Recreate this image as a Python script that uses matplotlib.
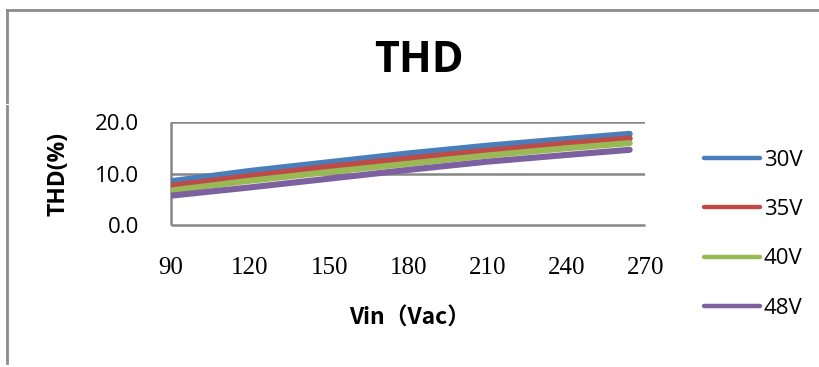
import matplotlib
matplotlib.use("Agg")
import matplotlib.pyplot as plt
from matplotlib.lines import Line2D

vin = [90, 120, 150, 180, 210, 240, 264]
thd_30v = [8.5, 10.5, 12.2, 13.9, 15.4, 16.7, 17.7]
thd_35v = [7.6, 9.5, 11.3, 12.9, 14.4, 15.8, 16.8]
thd_40v = [6.7, 8.6, 10.3, 11.9, 13.5, 14.9, 15.9]
thd_48v = [5.7, 7.3, 9.0, 10.7, 12.3, 13.6, 14.6]
series_labels = ["30V", "35V", "40V", "48V"]
colors = ["#4A7EBB", "#BE4B48", "#98B954", "#7D60A0"]
x_ticks = [90, 120, 150, 180, 210, 240, 270]
y_ticks = [0.0, 10.0, 20.0]

W, H = 820, 367
fig = plt.figure(figsize=(W / 100, H / 100), dpi=100)
ax = fig.add_axes([171 / W, 1 - 225 / H, (645.5 - 171) / W, (225 - 122) / H])

for ys, c, lab in zip([thd_30v, thd_35v, thd_40v, thd_48v], colors, series_labels):
    ax.plot(vin, ys, color=c, lw=4.4, label=lab, solid_capstyle="round", zorder=3)

ax.set_xlim(90, 270)
ax.set_ylim(0, 20)
ax.set_xticks(x_ticks)
ax.set_xticklabels([str(v) for v in x_ticks], fontfamily="Liberation Serif", fontsize=18)
ax.set_yticks(y_ticks)
ax.set_yticklabels([f"{v:.1f}" for v in y_ticks], fontfamily="Open Sans", fontsize=16)
ax.tick_params(axis="both", length=0)
ax.tick_params(axis="x", pad=23)
ax.tick_params(axis="y", pad=23)

grid_c = "#868686"
for y in [10, 20]:
    ax.axhline(y, color=grid_c, lw=1.8, zorder=1)
for s in ["top", "right"]:
    ax.spines[s].set_visible(False)
for s in ["left", "bottom"]:
    ax.spines[s].set_color(grid_c)
    ax.spines[s].set_linewidth(1.8)
    ax.spines[s].set_capstyle("butt")

ax.set_ylabel("THD(%)", fontfamily="Open Sans", fontweight="bold", fontsize=16.5)
ax.yaxis.set_label_coords(-(171 - 71) / (645.5 - 171), 0.5)
ax.set_xlabel("Vin（Vac）", fontfamily=["Noto Sans CJK SC", "DejaVu Sans"], fontweight="bold", fontsize=16.5)
ax.xaxis.set_label_coords((410 - 171) / (645.5 - 171), -(318 - 225) / (225 - 122))
ax.xaxis.label.set_va("center")

fig.text(418.5 / W, 1 - 61 / H, "THD", ha="center", va="center",
         fontfamily="Open Sans", fontweight="bold", fontsize=31)

leg = fig.legend(loc="upper left", bbox_to_anchor=(704 / W, 1 - 150 / H),
                 frameon=False, prop={"family": "Open Sans", "size": 16},
                 handlelength=2.5, handletextpad=0.2, labelspacing=1.27,
                 borderpad=0, borderaxespad=0)
for h in leg.get_lines():
    h.set_linewidth(3.2)
    h.set_solid_capstyle("round")

bc = "#8c8c8c"
fig.add_artist(Line2D([7 / W, 1.0], [1 - 10 / H, 1 - 10 / H], color=bc, lw=2))
fig.add_artist(Line2D([7 / W, 7 / W], [1 - 10 / H, 1 - 102 / H], color=bc, lw=2))
fig.add_artist(Line2D([7 / W, 7 / W], [1 - 106 / H, 1 - 363 / H], color=bc, lw=2))

fig.savefig("out.png", dpi=100)
